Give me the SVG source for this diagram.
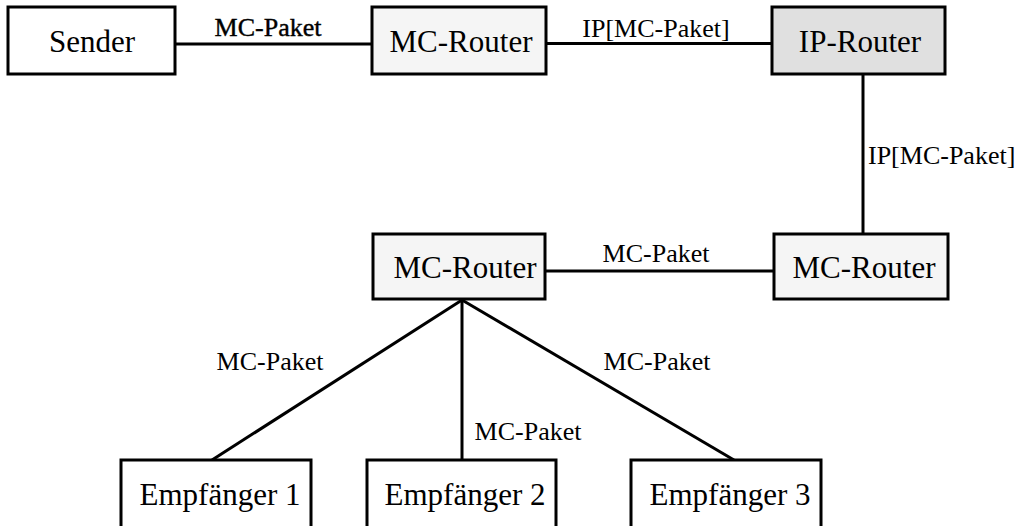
<svg xmlns="http://www.w3.org/2000/svg" width="1021" height="526" viewBox="0 0 1021 526">
<style>
.box{stroke:#000;stroke-width:3}
.w{fill:#fff}.mc{fill:#f5f5f5}.ip{fill:#e0e0e0}
.nt{font-family:"Liberation Serif","Times New Roman",serif;font-size:31px;fill:#000;text-anchor:middle}
.lt{font-family:"Liberation Serif","Times New Roman",serif;font-size:26px;fill:#000;text-anchor:middle}
.c line{stroke:#000;stroke-width:3}
</style>
<rect width="1021" height="526" fill="#fff"/>
<g id="connectors" class="c">
<line x1="175" y1="44" x2="372" y2="44"/>
<line x1="546" y1="43.5" x2="772" y2="43.5"/>
<line x1="863" y1="74" x2="863" y2="234"/>
<line x1="545" y1="271" x2="774" y2="271"/>
<line x1="462" y1="300" x2="212" y2="460"/>
<line x1="462" y1="300" x2="462" y2="460"/>
<line x1="462" y1="300" x2="734" y2="460"/>
<text class="lt" x="268" y="36" style="stroke:#000;stroke-width:0.4">MC-Paket</text>
<text class="lt" x="656" y="37">IP[MC-Paket]</text>
<text class="lt" x="868" y="164" style="text-anchor:start">IP[MC-Paket]</text>
<text class="lt" x="656" y="262">MC-Paket</text>
<text class="lt" x="270" y="370">MC-Paket</text>
<text class="lt" x="528" y="440">MC-Paket</text>
<text class="lt" x="657" y="370">MC-Paket</text>
</g>
<g id="sender"><rect class="box w" x="8" y="7" width="167" height="67"/><text class="nt" x="92" y="52">Sender</text></g>
<g id="mc-router-1"><rect class="box mc" x="372" y="7" width="174" height="67"/><text class="nt" x="461" y="52">MC-Router</text></g>
<g id="ip-router"><rect class="box ip" x="772" y="7" width="173" height="67"/><text class="nt" x="860" y="52">IP-Router</text></g>
<g id="mc-router-2"><rect class="box mc" x="774" y="234" width="174" height="65"/><text class="nt" x="864" y="278">MC-Router</text></g>
<g id="mc-router-3"><rect class="box mc" x="373" y="234" width="172" height="65"/><text class="nt" x="465" y="278">MC-Router</text></g>
<g id="empfaenger-1"><rect class="box w" x="121" y="460" width="190" height="80"/><text class="nt" x="220" y="505">Empfänger 1</text></g>
<g id="empfaenger-2"><rect class="box w" x="367" y="460" width="189" height="80"/><text class="nt" x="465" y="505">Empfänger 2</text></g>
<g id="empfaenger-3"><rect class="box w" x="631" y="460" width="190" height="80"/><text class="nt" x="730" y="505">Empfänger 3</text></g>
</svg>
